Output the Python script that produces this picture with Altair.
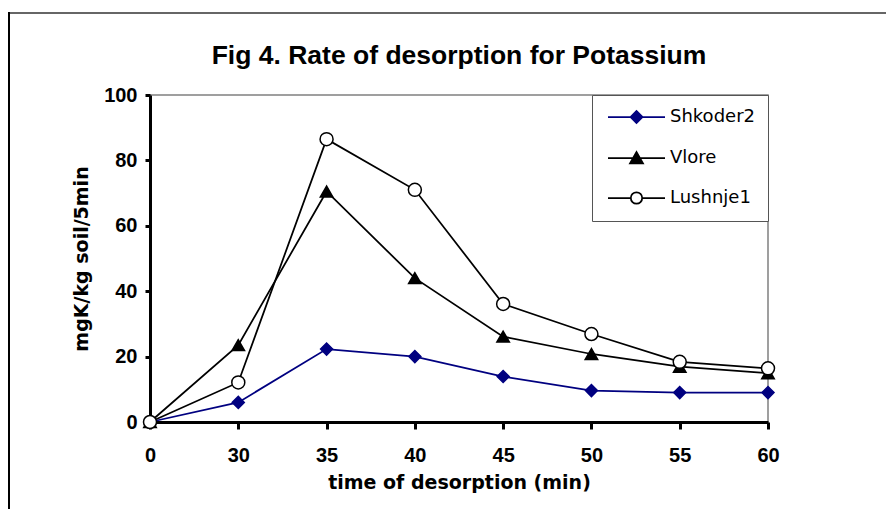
import altair as alt
import pandas as pd

# ---- data ----
times = ["0", "30", "35", "40", "45", "50", "55", "60"]
series_names = ["Shkoder2", "Vlore", "Lushnje1"]
shkoder2 = [0, 6.0, 22.3, 20.0, 13.9, 9.6, 9.0, 9.0]
vlore = [0, 23.5, 70.5, 44.0, 26.1, 20.8, 16.9, 14.9]
lushnje1 = [0, 12.1, 86.5, 71.0, 36.1, 26.9, 18.4, 16.4]
y_ticks = [0, 20, 40, 60, 80, 100]

title_text = "Fig 4. Rate of desorption for Potassium"
x_title = "time of desorption (min)"
y_title = "mgK/kg soil/5min"

# ---- styles ----
line_colors = ["#000080", "#000000", "#000000"]
fill_colors = ["#000080", "#000000", "#ffffff"]
marker_shapes = ["diamond", "triangle-up", "circle"]
marker_sizes = [144, 169, 132]
legend_paths = [
    "M-1,0H8.5M2.75,0L3.75,-1L4.75,0L3.75,1Z",
    "M-1,0H8.5M2.67,0.9L4.83,0.9L3.75,-1Z",
    "M-1,0H2.8M4.7,0H8.5M2.8,0A0.95,0.95,0,1,0,4.7,0A0.95,0.95,0,1,0,2.8,0Z",
]
FONT = "Liberation Sans, Arial, sans-serif"
WIDE = "DejaVu Sans, Verdana, sans-serif"

rows = []
for name, vals in zip(series_names, [shkoder2, vlore, lushnje1]):
    for t, v in zip(times, vals):
        rows.append({"time": t, "series": name, "value": v})
df = pd.DataFrame(rows)

x = alt.X(
    "time:O",
    sort=times,
    scale=alt.Scale(padding=0),
    axis=alt.Axis(
        title=x_title,
        labelAngle=0,
        tickSize=7,
        labelPadding=16,
        titlePadding=8,
    ),
)
y = alt.Y(
    "value:Q",
    scale=alt.Scale(domain=[0, 100]),
    axis=alt.Axis(
        title=y_title,
        values=y_ticks,
        grid=False,
        tickSize=5,
        labelPadding=8,
        titlePadding=12,
    ),
)

lines = alt.Chart(df).mark_line(strokeWidth=1.75).encode(
    x=x,
    y=y,
    stroke=alt.Stroke("series:N", scale=alt.Scale(domain=series_names, range=line_colors), legend=None),
)

points = alt.Chart(df).mark_point(filled=True, strokeWidth=1.5, opacity=1).encode(
    x=x,
    y=y,
    shape=alt.Shape("series:N", scale=alt.Scale(domain=series_names, range=marker_shapes), legend=None),
    fill=alt.Fill("series:N", scale=alt.Scale(domain=series_names, range=fill_colors), legend=None),
    stroke=alt.Stroke("series:N", scale=alt.Scale(domain=series_names, range=line_colors), legend=None),
    size=alt.Size("series:N", scale=alt.Scale(domain=series_names, range=marker_sizes), legend=None),
)

legend_layer = (
    alt.Chart(df)
    .transform_filter("false")
    .mark_point(filled=True, size=144, strokeWidth=1.75, opacity=1)
    .encode(
        shape=alt.Shape("series:N", scale=alt.Scale(domain=series_names, range=legend_paths), title=None),
        fill=alt.Fill("series:N", scale=alt.Scale(domain=series_names, range=fill_colors), title=None),
        stroke=alt.Stroke("series:N", scale=alt.Scale(domain=series_names, range=line_colors), title=None),
    )
)

frame_top = alt.Chart(pd.DataFrame({"a": [0]})).mark_rule(color="#666666", strokeWidth=2).encode(
    x=alt.value(-142), x2=alt.value(736), y=alt.value(-82)
)
frame_left = alt.Chart(pd.DataFrame({"a": [0]})).mark_rule(color="#000000", strokeWidth=2).encode(
    x=alt.value(-141), y=alt.value(-83), y2=alt.value(414)
)

chart = (
    alt.layer(frame_top, frame_left, lines, points, legend_layer)
    .resolve_scale(shape="independent", fill="independent", stroke="independent", size="independent")
    .resolve_legend(shape="independent", fill="independent", stroke="independent", size="independent")
    .properties(
        width=618,
        height=327,
        autosize=alt.AutoSizeParams(type="none"),
        padding={"left": 142, "top": 87, "right": 118, "bottom": 87},
        title=alt.TitleParams(
            title_text,
            font=FONT,
            fontSize=26.5,
            fontWeight="bold",
            anchor="middle",
            color="#000000",
            baseline="alphabetic",
            offset=0,
            dy=79,
        ),
    )
    .configure_view(stroke="#808080", strokeWidth=1.5)
    .configure_axis(
        domainColor="#000000",
        domainWidth=3,
        tickColor="#000000",
        tickWidth=3,
        labelFont=FONT,
        labelFontSize=20,
        labelFontWeight="bold",
        labelColor="#000000",
        titleFont=WIDE,
        titleFontSize=19,
        titleFontWeight="bold",
        titleColor="#000000",
    )
    .configure_legend(
        orient="top-right",
        offset=0,
        padding=13,
        strokeColor="#555555",
        fillColor="#ffffff",
        labelFont=WIDE,
        labelFontSize=18,
        labelColor="#000000",
        labelOffset=47,
        symbolSize=144,
        symbolStrokeWidth=1.75,
        rowPadding=21,
        cornerRadius=0,
    )
)

chart.save("out.html", embed_options={"renderer": "svg", "actions": False})
